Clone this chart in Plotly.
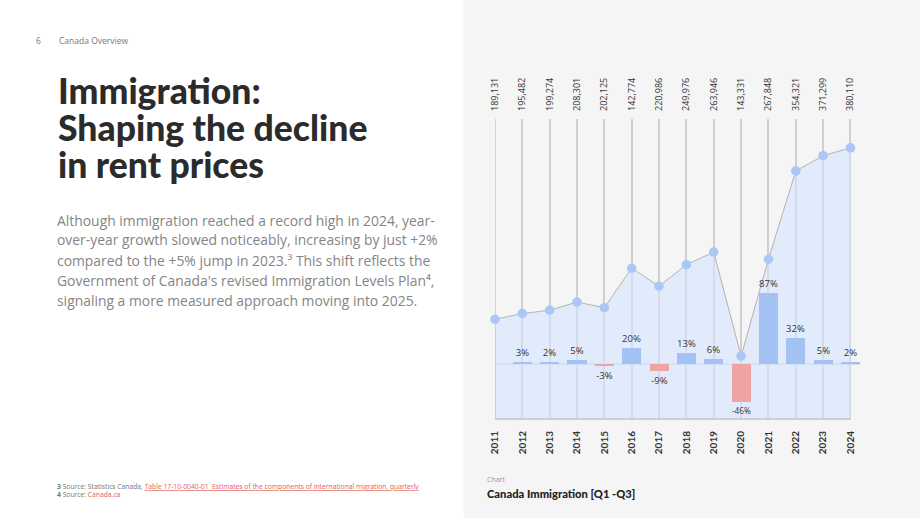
import plotly.graph_objects as go

# ---------------- data ----------------
years = [2011, 2012, 2013, 2014, 2015, 2016, 2017, 2018, 2019, 2020, 2021, 2022, 2023, 2024]
# plotted immigration values (read from point positions)
immigrants = [189131, 195482, 199274, 208301, 202125, 246000, 226000, 249976, 263946, 148000, 256000, 354321, 371299, 380110]
# value labels as printed above the chart
value_labels = ["189,131", "195,482", "199,274", "208,301", "202,125", "142,774", "220,986",
                "249,976", "263,946", "143,331", "267,848", "354,321", "371,299", "380,110"]
# year-over-year growth (%)
growth = [None, 3, 2, 5, -3, 20, -9, 13, 6, -46, 87, 32, 5, 2]

body_lines = [
    "Although immigration reached a record high in 2024, year-",
    "over-year growth slowed noticeably, increasing by just +2%",
    "compared to the +5% jump in 2023.³ This shift reflects the",
    "Government of Canada's revised Immigration Levels Plan⁴,",
    "signaling a more measured approach moving into 2025.",
]
title_lines = ["Immigration:", "Shaping the decline", "in rent prices"]

W, H = 920, 518
POS_COL = "#a3c1f2"
NEG_COL = "#f0a3a3"

fig = go.Figure()

# area + line
fig.add_trace(go.Scatter(
    x=years, y=immigrants, mode="lines+markers",
    line=dict(color="#b3b3b3", width=1),
    marker=dict(size=9.5, color="#aac7f7"),
    fill="tozeroy", fillcolor="rgba(214,228,255,0.6)",
    xaxis="x", yaxis="y", hoverinfo="skip", cliponaxis=False,
))

# invisible trace to carry the top axis of value labels
fig.add_trace(go.Scatter(
    x=years, y=immigrants, mode="markers", marker=dict(opacity=0, size=1),
    xaxis="x2", yaxis="y", hoverinfo="skip",
))

# growth bars
bar_x = [y for y, g in zip(years, growth) if g is not None]
bar_y = [g for g in growth if g is not None]
fig.add_trace(go.Bar(
    x=bar_x, y=bar_y, width=0.7,
    marker=dict(color=[POS_COL if v >= 0 else NEG_COL for v in bar_y], line=dict(width=0)),
    text=[f"{v}%" for v in bar_y], textposition="outside",
    textfont=dict(family="Open Sans", size=9.5, color="#333333"),
    cliponaxis=False, xaxis="x", yaxis="y2", hoverinfo="skip",
))

xdom = [491.7 / W, 859.6 / W]
ydom = [1 - 419 / H, 1 - 119 / H]
xr = [2011, 2024.35]

fig.update_layout(
    width=W, height=H, margin=dict(l=0, r=0, t=0, b=0),
    paper_bgcolor="white", plot_bgcolor="rgba(0,0,0,0)",
    showlegend=False, bargap=0,
    xaxis=dict(domain=xdom, range=xr, tickmode="array", tickvals=years,
               ticktext=[str(y) for y in years], tickangle=-90,
               tickfont=dict(family="Lato", size=10, color="#333333", weight=700),
               showgrid=True, gridcolor="#d0d0d0", gridwidth=1.5,
               zeroline=False, showline=False, ticks="", ticklabelstandoff=9),
    xaxis2=dict(domain=xdom, range=xr, overlaying="x", side="top", anchor="y",
                tickmode="array", tickvals=years, ticktext=value_labels, tickangle=-90,
                tickfont=dict(family="Open Sans", size=9, color="#333333"),
                showgrid=False, zeroline=False, showline=False, ticks="",
                ticklabelstandoff=7),
    yaxis=dict(domain=ydom, range=[78100, 412200], showgrid=False,
               showticklabels=False, zeroline=False, showline=False),
    yaxis2=dict(domain=ydom, range=[-67.1, 298.8], overlaying="y", side="right",
                showgrid=False, showticklabels=False, zeroline=True,
                zerolinecolor="#d5dcea", zerolinewidth=1.5, showline=False),
)

shapes = [
    dict(type="rect", xref="paper", yref="paper", x0=0.5, x1=1, y0=0, y1=1,
         fillcolor="#f5f5f5", line=dict(width=0), layer="below"),
    dict(type="line", xref="x", yref="y domain", x0=years[0], x1=years[-1], y0=0, y1=0,
         line=dict(color="#c2c2c2", width=1.5), layer="above"),
    dict(type="line", xref="x", yref="y domain", x0=years[0], x1=years[0], y0=0, y1=1,
         line=dict(color="#c6c6c6", width=1.5), layer="above"),
]
fig.update_layout(shapes=shapes)

ann = []
def px(x):
    return x / W
def py(y):
    return 1 - y / H

# header
ann.append(dict(x=px(27), y=py(41), text="6", xanchor="left", yanchor="middle",
                font=dict(family="Open Sans", size=8.5, color="#777777")))
ann.append(dict(x=px(50), y=py(41), text="Canada Overview", xanchor="left", yanchor="middle",
                font=dict(family="Open Sans", size=8.5, color="#777777")))

# title
for i, t in enumerate(title_lines):
    ann.append(dict(x=px(49), y=py(91 + i * 37), text=t, xanchor="left", yanchor="middle",
                    font=dict(family="Lato", size=35.5, color="#2b2b2b", weight=900)))

# body
for i, t in enumerate(body_lines):
    ann.append(dict(x=px(48), y=py(220 + i * 20), text=t, xanchor="left", yanchor="middle",
                    font=dict(family="Open Sans", size=13.9, color="#858585")))

# footnotes
ann.append(dict(x=px(48), y=py(486), xanchor="left", yanchor="middle",
                text="<b>3</b> Source: Statistics Canada, "
                     "<span style='color:#e35d57;text-decoration:underline'>Table 17-10-0040-01  Estimates of the components of international migration, quarterly</span>",
                font=dict(family="Open Sans", size=6.75, color="#777777")))
ann.append(dict(x=px(48), y=py(494), xanchor="left", yanchor="middle",
                text="<b>4</b> Source: <span style='color:#e35d57'>Canada.ca</span>",
                font=dict(family="Open Sans", size=6.75, color="#777777")))

# chart caption
ann.append(dict(x=px(482), y=py(479), text="Chart", xanchor="left", yanchor="middle",
                font=dict(family="Open Sans", size=7, color="#999999")))
ann.append(dict(x=px(482), y=py(493), text="Canada Immigration [Q1 -Q3]", xanchor="left", yanchor="middle",
                font=dict(family="Lato", size=11.2, color="#222222", weight=900)))

for a in ann:
    a.update(xref="paper", yref="paper", showarrow=False)
fig.update_layout(annotations=ann)

fig.write_html("out.html")
